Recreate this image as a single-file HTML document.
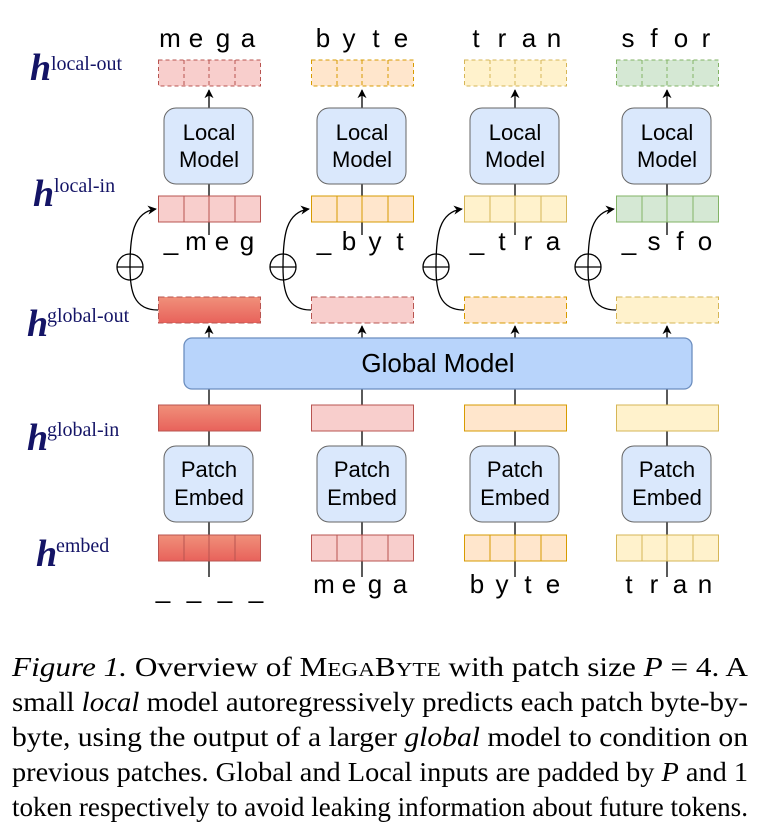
<!DOCTYPE html>
<html><head><meta charset="utf-8"><style>
html,body{margin:0;padding:0;background:#fff;}
svg{display:block;}
</style></head><body>
<svg width="780" height="839" viewBox="0 0 780 839" xmlns="http://www.w3.org/2000/svg">
<defs>
<linearGradient id="rg" x1="0" y1="0" x2="0" y2="1"><stop offset="0" stop-color="#f0907a"/><stop offset="1" stop-color="#e8625b"/></linearGradient>
<marker id="ah" viewBox="0 0 10 10" refX="9" refY="5" markerWidth="7" markerHeight="7" orient="auto"><path d="M0,0 L10,5 L0,10 L3,5 z" fill="#000"/></marker>
</defs>
<g font-family="Liberation Serif, serif" fill="#141466">
<text x="30" y="80" font-size="38" font-style="italic" font-weight="bold">h</text><text x="51" y="70" font-size="20">local-out</text>
<text x="33" y="206" font-size="38" font-style="italic" font-weight="bold">h</text><text x="54" y="192" font-size="20">local-in</text>
<text x="27" y="336" font-size="38" font-style="italic" font-weight="bold">h</text><text x="47" y="322" font-size="20">global-out</text>
<text x="27" y="450" font-size="38" font-style="italic" font-weight="bold">h</text><text x="47" y="436" font-size="20">global-in</text>
<text x="36" y="566" font-size="38" font-style="italic" font-weight="bold">h</text><text x="56" y="552" font-size="20">embed</text>
</g>
<!-- Column 1 -->
<g transform="translate(158,0)" font-family="Liberation Sans, sans-serif" text-anchor="middle">
<line x1="51" y1="108" x2="51" y2="90" stroke="#000" stroke-width="1.3" marker-end="url(#ah)"/>
<line x1="51" y1="184" x2="51" y2="235" stroke="#000" stroke-width="1.3"/>
<line x1="51" y1="338" x2="51" y2="326" stroke="#000" stroke-width="1.3" marker-end="url(#ah)"/>
<line x1="51" y1="389" x2="51" y2="446" stroke="#000" stroke-width="1.3"/>
<line x1="51" y1="522" x2="51" y2="577" stroke="#000" stroke-width="1.3"/>
<rect x="0.5" y="60" width="102" height="26" fill="#f8cecc" stroke="#b85450" stroke-dasharray="4,3"/>
<path d="M26 60v26M51 60v26M77 60v26" stroke="#b85450" stroke-dasharray="4,3"/>
<rect x="6" y="108" width="89" height="76" rx="12" fill="#dae8fc" stroke="#666"/>
<text x="51" y="140" font-size="22">Local</text><text x="51" y="167" font-size="22">Model</text>
<rect x="0.5" y="196" width="102" height="26" fill="#f8cecc" stroke="#b85450"/>
<path d="M26 196v26M51 196v26M77 196v26" stroke="#b85450"/>
<rect x="0.5" y="297" width="102" height="26" fill="url(#rg)" stroke="#b85450" stroke-dasharray="6,3"/>
<rect x="0.5" y="405" width="102" height="26" fill="url(#rg)" stroke="#b85450"/>
<rect x="6" y="446" width="89" height="76" rx="12" fill="#dae8fc" stroke="#666"/>
<text x="51" y="477" font-size="22">Patch</text><text x="51" y="505" font-size="22">Embed</text>
<rect x="0.5" y="535" width="102" height="26" fill="url(#rg)" stroke="#b85450"/>
<path d="M26 535v26M51 535v26M77 535v26" stroke="#b85450"/>
<g font-size="26"><text x="12" y="47">m</text><text x="38" y="47">e</text><text x="65" y="47">g</text><text x="90" y="47">a</text>
<text x="13" y="250">_</text><text x="38" y="250">m</text><text x="64" y="250">e</text><text x="89" y="250">g</text>
<text x="5" y="598">_</text><text x="36" y="598">_</text><text x="67" y="598">_</text><text x="98" y="598">_</text></g>
<path d="M0 310 C-25 310 -28 290 -28 267 C-28 235 -25 212 -2 209" fill="none" stroke="#000" stroke-width="1.3" marker-end="url(#ah)"/>
<circle cx="-28" cy="267" r="13" fill="none" stroke="#000" stroke-width="1.3"/>
<path d="M-41 267h26" stroke="#000" stroke-width="1.3"/>
</g>
<!-- Column 2 -->
<g transform="translate(311,0)" font-family="Liberation Sans, sans-serif" text-anchor="middle">
<line x1="51" y1="108" x2="51" y2="90" stroke="#000" stroke-width="1.3" marker-end="url(#ah)"/>
<line x1="51" y1="184" x2="51" y2="235" stroke="#000" stroke-width="1.3"/>
<line x1="51" y1="338" x2="51" y2="326" stroke="#000" stroke-width="1.3" marker-end="url(#ah)"/>
<line x1="51" y1="389" x2="51" y2="446" stroke="#000" stroke-width="1.3"/>
<line x1="51" y1="522" x2="51" y2="577" stroke="#000" stroke-width="1.3"/>
<rect x="0.5" y="60" width="102" height="26" fill="#ffe6cc" stroke="#d79b00" stroke-dasharray="4,3"/>
<path d="M26 60v26M51 60v26M77 60v26" stroke="#d79b00" stroke-dasharray="4,3"/>
<rect x="6" y="108" width="89" height="76" rx="12" fill="#dae8fc" stroke="#666"/>
<text x="51" y="140" font-size="22">Local</text><text x="51" y="167" font-size="22">Model</text>
<rect x="0.5" y="196" width="102" height="26" fill="#ffe6cc" stroke="#d79b00"/>
<path d="M26 196v26M51 196v26M77 196v26" stroke="#d79b00"/>
<rect x="0.5" y="297" width="102" height="26" fill="#f8cecc" stroke="#b85450" stroke-dasharray="6,3"/>
<rect x="0.5" y="405" width="102" height="26" fill="#f8cecc" stroke="#b85450"/>
<rect x="6" y="446" width="89" height="76" rx="12" fill="#dae8fc" stroke="#666"/>
<text x="51" y="477" font-size="22">Patch</text><text x="51" y="505" font-size="22">Embed</text>
<rect x="0.5" y="535" width="102" height="26" fill="#f8cecc" stroke="#b85450"/>
<path d="M26 535v26M51 535v26M77 535v26" stroke="#b85450"/>
<g font-size="26"><text x="12" y="47">b</text><text x="38" y="47">y</text><text x="65" y="47">t</text><text x="90" y="47">e</text>
<text x="13" y="250">_</text><text x="38" y="250">b</text><text x="64" y="250">y</text><text x="89" y="250">t</text>
<text x="13" y="593">m</text><text x="38" y="593">e</text><text x="64" y="593">g</text><text x="89" y="593">a</text></g>
<path d="M0 310 C-25 310 -28 290 -28 267 C-28 235 -25 212 -2 209" fill="none" stroke="#000" stroke-width="1.3" marker-end="url(#ah)"/>
<circle cx="-28" cy="267" r="13" fill="none" stroke="#000" stroke-width="1.3"/>
<path d="M-41 267h26" stroke="#000" stroke-width="1.3"/>
</g>
<!-- Column 3 -->
<g transform="translate(464,0)" font-family="Liberation Sans, sans-serif" text-anchor="middle">
<line x1="51" y1="108" x2="51" y2="90" stroke="#000" stroke-width="1.3" marker-end="url(#ah)"/>
<line x1="51" y1="184" x2="51" y2="235" stroke="#000" stroke-width="1.3"/>
<line x1="51" y1="338" x2="51" y2="326" stroke="#000" stroke-width="1.3" marker-end="url(#ah)"/>
<line x1="51" y1="389" x2="51" y2="446" stroke="#000" stroke-width="1.3"/>
<line x1="51" y1="522" x2="51" y2="577" stroke="#000" stroke-width="1.3"/>
<rect x="0.5" y="60" width="102" height="26" fill="#fff2cc" stroke="#d6b656" stroke-dasharray="4,3"/>
<path d="M26 60v26M51 60v26M77 60v26" stroke="#d6b656" stroke-dasharray="4,3"/>
<rect x="6" y="108" width="89" height="76" rx="12" fill="#dae8fc" stroke="#666"/>
<text x="51" y="140" font-size="22">Local</text><text x="51" y="167" font-size="22">Model</text>
<rect x="0.5" y="196" width="102" height="26" fill="#fff2cc" stroke="#d6b656"/>
<path d="M26 196v26M51 196v26M77 196v26" stroke="#d6b656"/>
<rect x="0.5" y="297" width="102" height="26" fill="#ffe6cc" stroke="#d79b00" stroke-dasharray="6,3"/>
<rect x="0.5" y="405" width="102" height="26" fill="#ffe6cc" stroke="#d79b00"/>
<rect x="6" y="446" width="89" height="76" rx="12" fill="#dae8fc" stroke="#666"/>
<text x="51" y="477" font-size="22">Patch</text><text x="51" y="505" font-size="22">Embed</text>
<rect x="0.5" y="535" width="102" height="26" fill="#ffe6cc" stroke="#d79b00"/>
<path d="M26 535v26M51 535v26M77 535v26" stroke="#d79b00"/>
<g font-size="26"><text x="12" y="47">t</text><text x="38" y="47">r</text><text x="65" y="47">a</text><text x="90" y="47">n</text>
<text x="13" y="250">_</text><text x="38" y="250">t</text><text x="64" y="250">r</text><text x="89" y="250">a</text>
<text x="13" y="593">b</text><text x="38" y="593">y</text><text x="64" y="593">t</text><text x="89" y="593">e</text></g>
<path d="M0 310 C-25 310 -28 290 -28 267 C-28 235 -25 212 -2 209" fill="none" stroke="#000" stroke-width="1.3" marker-end="url(#ah)"/>
<circle cx="-28" cy="267" r="13" fill="none" stroke="#000" stroke-width="1.3"/>
<path d="M-41 267h26" stroke="#000" stroke-width="1.3"/>
</g>
<!-- Column 4 -->
<g transform="translate(616,0)" font-family="Liberation Sans, sans-serif" text-anchor="middle">
<line x1="51" y1="108" x2="51" y2="90" stroke="#000" stroke-width="1.3" marker-end="url(#ah)"/>
<line x1="51" y1="184" x2="51" y2="235" stroke="#000" stroke-width="1.3"/>
<line x1="51" y1="338" x2="51" y2="326" stroke="#000" stroke-width="1.3" marker-end="url(#ah)"/>
<line x1="51" y1="389" x2="51" y2="446" stroke="#000" stroke-width="1.3"/>
<line x1="51" y1="522" x2="51" y2="577" stroke="#000" stroke-width="1.3"/>
<rect x="0.5" y="60" width="102" height="26" fill="#d5e8d4" stroke="#82b366" stroke-dasharray="4,3"/>
<path d="M26 60v26M51 60v26M77 60v26" stroke="#82b366" stroke-dasharray="4,3"/>
<rect x="6" y="108" width="89" height="76" rx="12" fill="#dae8fc" stroke="#666"/>
<text x="51" y="140" font-size="22">Local</text><text x="51" y="167" font-size="22">Model</text>
<rect x="0.5" y="196" width="102" height="26" fill="#d5e8d4" stroke="#82b366"/>
<path d="M26 196v26M51 196v26M77 196v26" stroke="#82b366"/>
<rect x="0.5" y="297" width="102" height="26" fill="#fff2cc" stroke="#d6b656" stroke-dasharray="6,3"/>
<rect x="0.5" y="405" width="102" height="26" fill="#fff2cc" stroke="#d6b656"/>
<rect x="6" y="446" width="89" height="76" rx="12" fill="#dae8fc" stroke="#666"/>
<text x="51" y="477" font-size="22">Patch</text><text x="51" y="505" font-size="22">Embed</text>
<rect x="0.5" y="535" width="102" height="26" fill="#fff2cc" stroke="#d6b656"/>
<path d="M26 535v26M51 535v26M77 535v26" stroke="#d6b656"/>
<g font-size="26"><text x="12" y="47">s</text><text x="38" y="47">f</text><text x="65" y="47">o</text><text x="90" y="47">r</text>
<text x="13" y="250">_</text><text x="38" y="250">s</text><text x="64" y="250">f</text><text x="89" y="250">o</text>
<text x="13" y="593">t</text><text x="38" y="593">r</text><text x="64" y="593">a</text><text x="89" y="593">n</text></g>
<path d="M0 310 C-25 310 -28 290 -28 267 C-28 235 -25 212 -2 209" fill="none" stroke="#000" stroke-width="1.3" marker-end="url(#ah)"/>
<circle cx="-28" cy="267" r="13" fill="none" stroke="#000" stroke-width="1.3"/>
<path d="M-41 267h26" stroke="#000" stroke-width="1.3"/>
</g>
<!-- Global model -->
<rect x="184" y="338" width="508" height="51" rx="8" fill="#b8d4fb" stroke="#6c8ebf" stroke-width="1.3"/>
<text x="438" y="372" font-family="Liberation Sans, sans-serif" font-size="26" text-anchor="middle">Global Model</text>
<!-- Caption -->
<g font-family="Liberation Serif, serif" font-size="27" fill="#000">
<text x="12" y="676" textLength="736" lengthAdjust="spacingAndGlyphs"><tspan font-style="italic">Figure 1.</tspan> Overview of M<tspan font-size="20">EGA</tspan>B<tspan font-size="20">YTE</tspan> with patch size <tspan font-style="italic">P</tspan> = 4.  A</text>
<text x="12" y="711" textLength="736" lengthAdjust="spacingAndGlyphs">small <tspan font-style="italic">local</tspan> model autoregressively predicts each patch byte-by-</text>
<text x="12" y="746" textLength="736" lengthAdjust="spacingAndGlyphs">byte, using the output of a larger <tspan font-style="italic">global</tspan> model to condition on</text>
<text x="12" y="781" textLength="736" lengthAdjust="spacingAndGlyphs">previous patches. Global and Local inputs are padded by <tspan font-style="italic">P</tspan> and 1</text>
<text x="12" y="816" textLength="736" lengthAdjust="spacingAndGlyphs">token respectively to avoid leaking information about future tokens.</text>
</g>
</svg>
</body></html>
